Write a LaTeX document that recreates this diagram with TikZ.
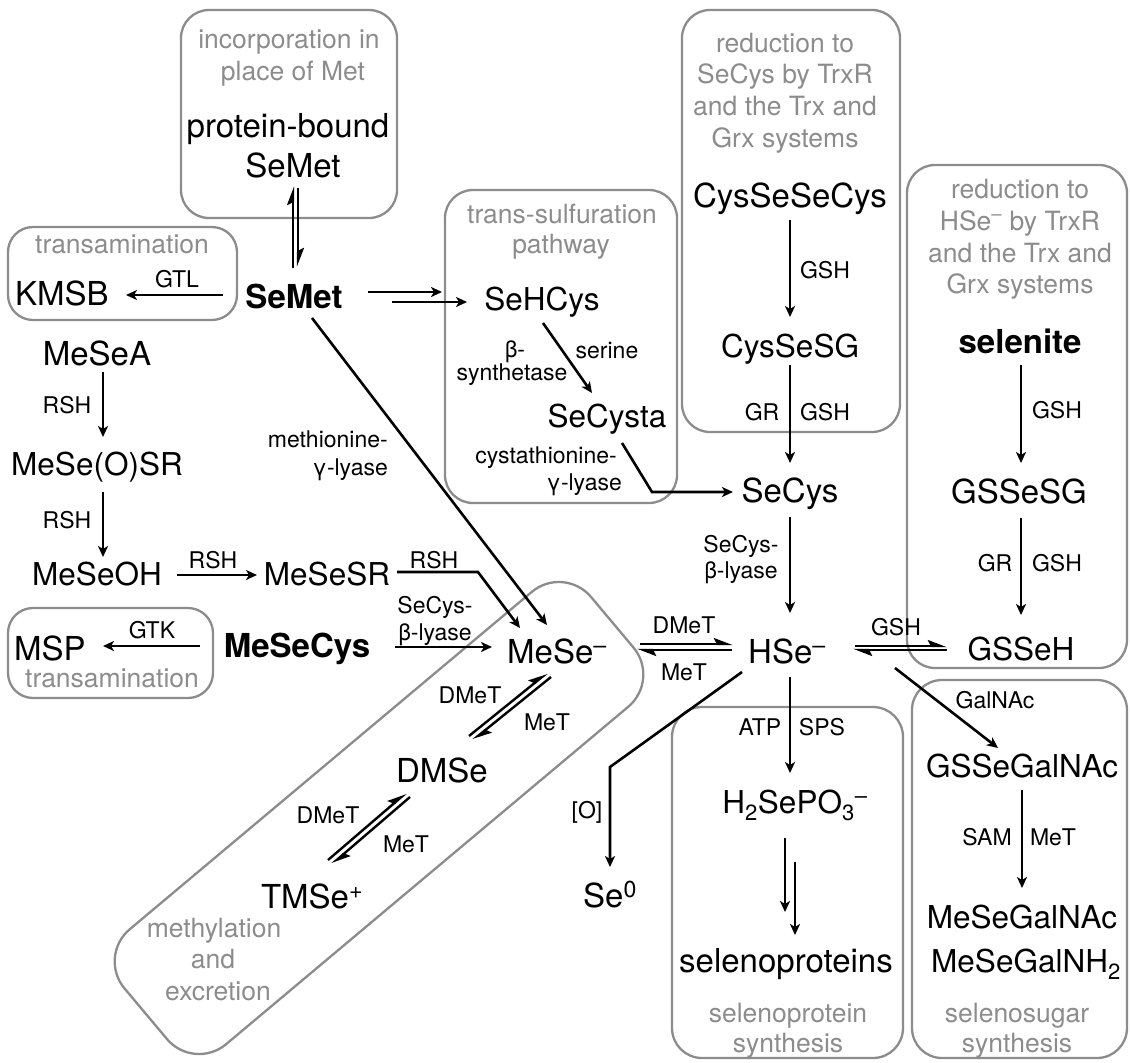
\documentclass[tikz,border=0pt]{standalone}
\usepackage{fontspec}
\setmainfont{TeX Gyre Heros}
\usetikzlibrary{arrows.meta}
\newcommand\sminus{\textsuperscript{\textendash}}
\definecolor{titlegray}{gray}{0.55}
\definecolor{boxgray}{gray}{0.55}
\begin{document}
\begin{tikzpicture}[x=1pt,y=-1pt,
 mol/.style={font=\fontsize{31.5}{36}\selectfont, anchor=base, inner sep=0pt},
 molL/.style={font=\fontsize{33}{38}\selectfont, anchor=base, inner sep=0pt},
 molB/.style={font=\fontsize{33}{38}\selectfont\bfseries, anchor=base, inner sep=0pt},
 enz/.style={font=\fontsize{23}{27}\selectfont, anchor=base, inner sep=0pt},
 ttl/.style={font=\fontsize{26.5}{31}\selectfont, text=titlegray, anchor=base, inner sep=0pt},
 grp/.style={draw=boxgray, line width=2.3pt, rounded corners=28pt},
 arr/.style={line width=2.6pt, -{Stealth[length=11pt,width=10pt,inset=3pt]}},
 harp/.style={line width=2.4pt, -{Stealth[left,length=16pt,width=12pt,inset=3pt]}},
]
\useasboundingbox (0,0) rectangle (1130,1063);
% ---------- group boxes ----------
\draw[grp] (181,10) rectangle (397,218);
\draw[grp,rounded corners=25pt] (8,227) rectangle (237,320);
\draw[grp] (445,190) rectangle (677,503);
\draw[grp] (682,10) rectangle (900,432);
\draw[grp] (907,165) rectangle (1127,668);
\draw[grp,rounded corners=25pt] (8,608) rectangle (213,698);
\draw[grp,rounded corners=30pt] (672,707) rectangle (903,1058);
\draw[grp,rounded corners=30pt] (912,680) rectangle (1127,1058);
\node[draw=boxgray, line width=2.3pt, rounded corners=42pt, minimum width=609pt,
      minimum height=150pt, rotate=40, inner sep=0pt] (methbox) at (379,818) {};
% ---------- group titles ----------
\node[ttl] (inc1) at (289,48) {incorporation in};
\node[ttl] (inc2) at (293,80) {place of Met};
\node[ttl] (trt) at (122,253) {transamination};
\node[ttl] (tst1) at (562,223) {trans-sulfuration};
\node[ttl] (tst2) at (561,253) {pathway};
\node[ttl] (rsc1) at (785,52) {reduction to};
\node[ttl] (rsc2) at (785,83) {SeCys by TrxR};
\node[ttl] (rsc3) at (785,115) {and the Trx and};
\node[ttl] (rsc4) at (785,147) {Grx systems};
\node[ttl] (rhs1) at (1020,198) {reduction to};
\node[ttl] (rhs2) at (1020,230) {HSe\sminus{} by TrxR};
\node[ttl] (rhs3) at (1020,262) {and the Trx and};
\node[ttl] (rhs4) at (1020,293) {Grx systems};
\node[ttl] (trb) at (112,687) {transamination};
\node[ttl] (meth1) at (214,937) {methylation};
\node[ttl] (meth2) at (213,968) {and};
\node[ttl] (meth3) at (218,1000) {excretion};
\node[ttl] (sp1) at (788,1022) {selenoprotein};
\node[ttl] (sp2) at (788,1052) {synthesis};
\node[ttl] (ss1) at (1017,1022) {selenosugar};
\node[ttl] (ss2) at (1017,1052) {synthesis};
% ---------- molecules ----------
\node[molL] (pbs1) at (288,137) {protein-bound};
\node[molL] (pbs2) at (293,177) {SeMet};
\node[molB] (semet) at (294,308) {SeMet};
\node[molL] (kmsb) at (62,305) {KMSB};
\node[molL] (mesea) at (97,365) {MeSeA};
\node[mol] (meseosr) at (97,475) {MeSe(O)SR};
\node[mol] (meseoh) at (97,585) {MeSeOH};
\node[mol] (mesesr) at (327,585) {MeSeSR};
\node[molL] (msp) at (50,660) {MSP};
\node[molB] (mesecys) at (297,657) {MeSeCys};
\node[mol] (sehcys) at (542,310) {SeHCys};
\node[mol] (secysta) at (607,427) {SeCysta};
\node[molL] (secys) at (790,502) {SeCys};
\node[molL] (cysse2) at (790,207) {CysSeSeCys};
\node[mol] (cysesg) at (790,357) {CysSeSG};
\node[molB] (selenite) at (1020,353) {selenite};
\node[molL] (gssesg) at (1019,503) {GSSeSG};
\node[mol] (gsseh) at (1021,660) {GSSeH};
\node[molL] (mese) at (557,663) {MeSe\sminus};
\node[molL] (hse) at (787,663) {HSe\sminus};
\node[molL] (dmse) at (442,782) {DMSe};
\node[molL] (tmse) at (312,908) {TMSe\textsuperscript{+}};
\node[molL] (se0) at (610,907) {Se\textsuperscript{0}};
\node[mol] (h2sepo3) at (795,813) {H\textsubscript{2}SePO\textsubscript{3}\textsuperscript{\textendash}};
\node[molL] (selprot) at (786,972) {selenoproteins};
\node[mol] (gssegalnac) at (1022,777) {GSSeGalNAc};
\node[mol] (mesegalnac) at (1022,928) {MeSeGalNAc};
\node[mol] (mesegalnh2) at (1026,972) {MeSeGalNH\textsubscript{2}};
% ---------- enzyme / reagent labels ----------
\node[enz] (gtl) at (177,287) {GTL};
\node[enz] (gtk) at (152,638) {GTK};
\node[enz] (rsh1) at (67,413) {RSH};
\node[enz] (rsh2) at (67,528) {RSH};
\node[enz] (rsh3) at (213,568) {RSH};
\node[enz] (rsh4) at (434,568) {RSH};
\node[enz] (scbl1) at (435,613) {SeCys-};
\node[enz] (scbl2) at (435,640) {β-lyase};
\node[enz,anchor=base east] (mgl1) at (388,447) {methionine-};
\node[enz,anchor=base east] (mgl2) at (388,475) {γ-lyase};
\node[enz] (bsyn1) at (515,357) {β-};
\node[enz] (bsyn2) at (512,380) {synthetase};
\node[enz] (serine) at (607,358) {serine};
\node[enz,anchor=base east] (cgl1) at (617,463) {cystathionine-};
\node[enz,anchor=base east] (cgl2) at (622,490) {γ-lyase};
\node[enz] (gsh1) at (825,278) {GSH};
\node[enz] (gr1) at (762,420) {GR};
\node[enz] (gsh2) at (825,420) {GSH};
\node[enz] (scbl3) at (741,552) {SeCys-};
\node[enz] (scbl4) at (741,578) {β-lyase};
\node[enz] (gsh3) at (1057,418) {GSH};
\node[enz] (gr2) at (995,571) {GR};
\node[enz] (gsh4) at (1057,571) {GSH};
\node[enz] (dmet1) at (684,633) {DMeT};
\node[enz] (met1) at (684,680) {MeT};
\node[enz] (gsh5) at (896,635) {GSH};
\node[enz] (galnac) at (995,708) {GalNAc};
\node[enz] (atp) at (760,735) {ATP};
\node[enz] (sps) at (822,735) {SPS};
\node[enz] (oxy) at (587,818) {[O]};
\node[enz] (sam) at (987,845) {SAM};
\node[enz] (met4) at (1053,845) {MeT};
\node[enz] (dmet2) at (470,703) {DMeT};
\node[enz] (met2) at (547,730) {MeT};
\node[enz] (dmet3) at (328,823) {DMeT};
\node[enz] (met3) at (406,852) {MeT};
% ---------- connectors ----------
\draw[arr] ([shift={(-71,-13)}]semet.base) -- ([shift={(64,-10)}]kmsb.base);
\draw[harp] ([shift={(-1,-40)}]semet.base) -- ([shift={(0,9)}]pbs2.base);
\draw[harp] ([shift={(5,11)}]pbs2.base) -- ([shift={(4,-41)}]semet.base);
\draw[arr] ([shift={(74,-16)}]semet.base) -- ([shift={(-100,-18)}]sehcys.base);
\draw[arr] ([shift={(98,-6)}]semet.base) -- ([shift={(-75,-8)}]sehcys.base);
\draw[arr] ([shift={(18,10)}]semet.base) -- ([shift={(-10,-38)}]mese.base);
\draw[arr] ([shift={(1,13)}]sehcys.base) -- ([shift={(-15,-34)}]secysta.base);
\draw[arr] ([shift={(15,16)}]secysta.base) -- ([shift={(-138,-10)}]secys.base) -- ([shift={(-57,-10)}]secys.base);
\draw[arr] ([shift={(0,13)}]cysse2.base) -- ([shift={(0,-40)}]cysesg.base);
\draw[arr] ([shift={(0,8)}]cysesg.base) -- ([shift={(0,-39)}]secys.base);
\draw[arr] ([shift={(0,15)}]secys.base) -- ([shift={(3,-50)}]hse.base);
\draw[arr] ([shift={(1,12)}]selenite.base) -- ([shift={(2,-40)}]gssesg.base);
\draw[arr] ([shift={(2,15)}]gssesg.base) -- ([shift={(0,-45)}]gsseh.base);
\draw[harp] ([shift={(68,-17)}]hse.base) -- ([shift={(-74,-14)}]gsseh.base);
\draw[harp] ([shift={(-74,-10)}]gsseh.base) -- ([shift={(66,-13)}]hse.base);
\draw[arr] ([shift={(108,5)}]hse.base) -- ([shift={(-24,-29)}]gssegalnac.base);
\draw[arr] ([shift={(0,13)}]gssegalnac.base) -- ([shift={(0,-40)}]mesegalnac.base);
\draw[arr] ([shift={(3,14)}]hse.base) -- ([shift={(-5,-40)}]h2sepo3.base);
\draw[arr] ([shift={(-10,25)}]h2sepo3.base) -- ([shift={(-1,-60)}]selprot.base);
\draw[arr] ([shift={(0,49)}]h2sepo3.base) -- ([shift={(9,-37)}]selprot.base);
\draw[arr] ([shift={(-45,9)}]hse.base) -- ([shift={(0,-140)}]se0.base) -- ([shift={(0,-40)}]se0.base);
\draw[harp] ([shift={(83,-19)}]mese.base) -- ([shift={(-54,-19)}]hse.base);
\draw[harp] ([shift={(-55,-13)}]hse.base) -- ([shift={(80,-13)}]mese.base);
\draw[arr] ([shift={(70,-13)}]mesesr.base) -- ([shift={(-79,-91)}]mese.base) -- ([shift={(-37,-35)}]mese.base);
\draw[arr] ([shift={(98,-10)}]mesecys.base) -- ([shift={(-65,-16)}]mese.base);
\draw[arr] ([shift={(-97,-11)}]mesecys.base) -- ([shift={(53,-14)}]msp.base);
\draw[arr] ([shift={(6,7)}]mesea.base) -- ([shift={(6,-38)}]meseosr.base);
\draw[arr] ([shift={(6,17)}]meseosr.base) -- ([shift={(6,-28)}]meseoh.base);
\draw[arr] ([shift={(80,-10)}]meseoh.base) -- ([shift={(-70,-10)}]mesesr.base);
\draw[harp] ([shift={(27,-46)}]dmse.base) -- ([shift={(-10,10)}]mese.base);
\draw[harp] ([shift={(-6,14)}]mese.base) -- ([shift={(31,-42)}]dmse.base);
\draw[harp] ([shift={(16,-48)}]tmse.base) -- ([shift={(-36,11)}]dmse.base);
\draw[harp] ([shift={(-32,15)}]dmse.base) -- ([shift={(20,-44)}]tmse.base);
\end{tikzpicture}
\end{document}
